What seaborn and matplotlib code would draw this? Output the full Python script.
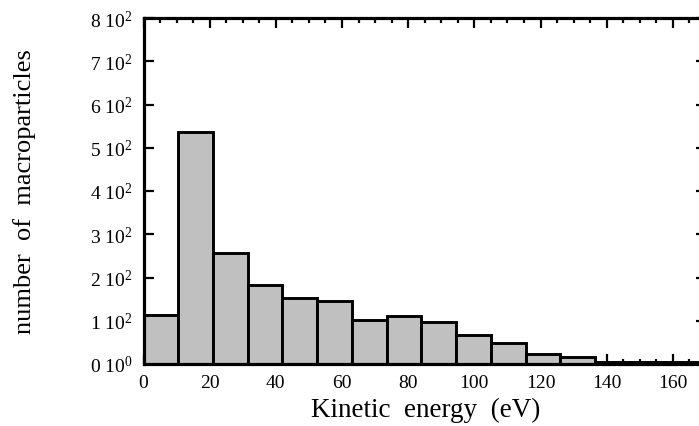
import numpy as np
import pandas as pd
import matplotlib
matplotlib.use("Agg")
import matplotlib.pyplot as plt
from matplotlib.ticker import MultipleLocator, FuncFormatter
import seaborn as sns

# kinetic energy histogram, 16 bins of 10.5 eV
bin_edges = [0, 10.5, 21, 31.5, 42, 52.5, 63, 73.5, 84, 94.5, 105, 115.5, 126, 136.5, 147, 157.5, 168]
counts = [114, 536, 256, 182, 152, 145, 102, 110, 96, 67, 48, 23, 17, 4, 4, 4]
x_range = (0, 170)
y_range = (0, 800)

sns.set_style("ticks")
plt.rcParams['font.family'] = ['Liberation Serif', 'DejaVu Serif']
plt.rcParams['mathtext.fontset'] = 'custom'
plt.rcParams['mathtext.rm'] = 'Liberation Serif'
plt.rcParams['mathtext.it'] = 'Liberation Serif:italic'
for k in ['text.color', 'axes.labelcolor', 'xtick.color', 'ytick.color', 'axes.edgecolor']:
    plt.rcParams[k] = 'black'

def ylab(v, pos):
    if v == 0:
        return r"0 $\mathregular{10^0}$"
    return r"%d $\mathregular{10^2}$" % int(round(v / 100))

edges = np.array(bin_edges)
df = pd.DataFrame({"energy": (edges[:-1] + edges[1:]) / 2, "n": counts})

fig = plt.figure(figsize=(6.99, 4.27), dpi=100)
ax = fig.add_axes([143.5 / 699, 62 / 427, (706 - 143.5) / 699, 346 / 427])

sns.histplot(data=df, x="energy", weights="n", bins=bin_edges, ax=ax,
             color="#c0c0c0", edgecolor="black", linewidth=2.1, alpha=1)

ax.set_xlim(*x_range)
ax.set_ylim(*y_range)
ax.xaxis.set_major_locator(MultipleLocator(20))
ax.xaxis.set_minor_locator(MultipleLocator(5))
ax.yaxis.set_major_locator(MultipleLocator(100))
ax.yaxis.set_major_formatter(FuncFormatter(ylab))

for s in ax.spines.values():
    s.set_linewidth(2.3)
    s.set_visible(True)
ax.tick_params(which='both', direction='in', top=True, right=True, width=1.6)
ax.tick_params(which='major', length=7.5)
ax.tick_params(which='minor', length=3.5)
ax.tick_params(axis='x', labelsize=14, pad=7)
ax.tick_params(axis='y', labelsize=14, pad=8)

ax.set_xlabel("Kinetic  energy  (eV)", fontsize=19.5, va='center')
ax.xaxis.set_label_coords((426 - 143.5) / (706 - 143.5), -0.13)
ax.set_ylabel("number  of  macroparticles", fontsize=19, va='center')
ax.yaxis.set_label_coords((25 - 143.5) / (706 - 143.5), 0.5)

fig.savefig("out.png", dpi=100)
